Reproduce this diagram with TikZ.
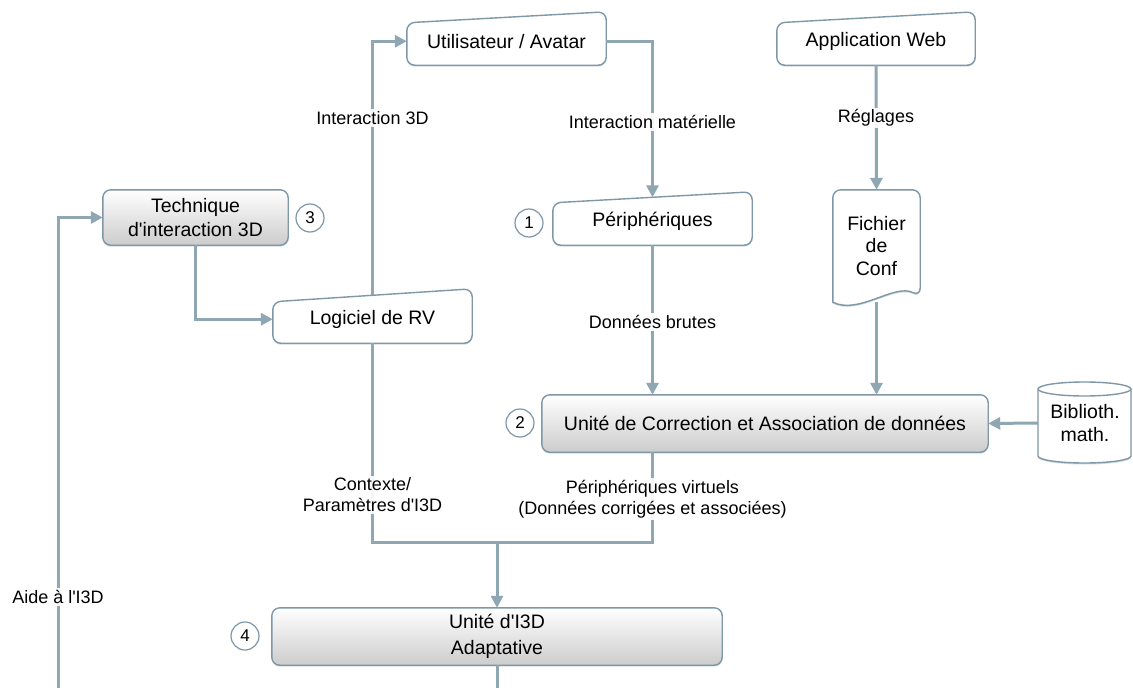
\documentclass[tikz,border=0pt]{standalone}
\usepackage{fontspec}
\setmainfont{Liberation Sans}
\usetikzlibrary{arrows.meta,shadows,backgrounds,calc}
\definecolor{lineC}{HTML}{8FA6B3}
\definecolor{borderC}{HTML}{7F97A6}
\newcommand\ap{\textquotesingle}
\begin{document}
\begin{tikzpicture}[x=1pt,y=-1pt,
  area/.style={inner sep=0pt, align=center, font=\fontsize{19.5}{24}\selectfont},
  boxline/.style={draw=borderC, line width=1.4pt, rounded corners=8pt, fill=white,
    drop shadow={opacity=0.35, fill=borderC, shadow xshift=0pt, shadow yshift=-1.5pt}},
  grad/.style={boxline, top color=white, bottom color=black!20},
  flow/.style={draw=lineC, line width=3pt},
  conn/.style={flow, -{Triangle[length=12pt,width=12pt]}},
  lab/.style={fill=white, fill opacity=0.9, text opacity=1, inner sep=2pt, align=center,
    font=\fontsize{18}{21}\selectfont},
  num/.style={circle, draw=borderC, line width=1.2pt, fill=white, minimum size=28pt,
    inner sep=0pt, font=\fontsize{17}{20}\selectfont}]
\useasboundingbox (0,0) rectangle (1133,688);

% nodes
\node[area, minimum width=199pt, minimum height=47.5pt] (user) at (506.5,41.25) {Utilisateur / Avatar};
\node[area, minimum width=198pt, minimum height=47.5pt] (web) at (876,41.25) {Application Web};
\node[area, minimum width=185pt, minimum height=55pt] (tech) at (195.5,217.5) {Technique\\d\ap interaction 3D};
\node[area, minimum width=199pt, minimum height=47.5pt] (peri) at (652.5,221.25) {Périphériques};
\node[area, minimum width=87pt, minimum height=112pt, font=\fontsize{19.5}{22.5}\selectfont] (fich) at (876.5,246) {Fichier\\de\\Conf};
\node[area, minimum width=199pt, minimum height=47.5pt] (rv) at (372.5,319.25) {Logiciel de RV};
\node[area, minimum width=446pt, minimum height=57pt] (corr) at (765,423.5) {Unité de Correction et Association de données};
\node[area, minimum width=94pt, minimum height=80pt, font=\fontsize{19.5}{23}\selectfont] (bib) at (1085,423) {Biblioth.\\math.};
\node[area, minimum width=450pt, minimum height=57pt, font=\fontsize{19.5}{26}\selectfont] (i3d) at (497,636.5) {Unité d\ap I3D\\Adaptative};

\node[num] (n3) at (310,218) {3};
\node[num] (n1) at (529,223) {1};
\node[num] (n2) at (520,423) {2};
\node[num] (n4) at (245,636) {4};

% shapes
\begin{scope}[on background layer]
\fill[white] (0,0) rectangle (1133,688);
\draw[boxline] ([yshift=-5.5pt]user.north west) -- ([yshift=5.5pt]user.north east) -- (user.south east) -- (user.south west) -- cycle;
\draw[boxline] ([yshift=-5.5pt]web.north west) -- ([yshift=5.5pt]web.north east) -- (web.south east) -- (web.south west) -- cycle;
\draw[boxline] ([yshift=-5.5pt]peri.north west) -- ([yshift=5.5pt]peri.north east) -- (peri.south east) -- (peri.south west) -- cycle;
\draw[boxline] ([yshift=-6.5pt]rv.north west) -- ([yshift=6.5pt]rv.north east) -- (rv.south east) -- (rv.south west) -- cycle;
\draw[grad] (tech.north west) rectangle (tech.south east);
\draw[grad] (corr.north west) rectangle (corr.south east);
\draw[grad] (i3d.north west) rectangle (i3d.south east);
\draw[boxline] (fich.south west) -- (fich.north west) -- (fich.north east) -- ([yshift=6pt]fich.south east)
  [sharp corners] .. controls +(-26,-13) and +(26,13) .. (fich.south west) -- cycle;
\draw[draw=borderC, line width=1.4pt, fill=white,
    drop shadow={opacity=0.35, fill=borderC, shadow xshift=0pt, shadow yshift=-1.5pt}]
  (1038,389) -- (1038,456) arc[start angle=180, end angle=360, x radius=46.5pt, y radius=7pt]
  -- (1131,389) arc[start angle=0, end angle=180, x radius=46.5pt, y radius=7pt] -- cycle;
\draw[draw=borderC, line width=1.4pt] (1038,389) arc[start angle=180, end angle=360, x radius=46.5pt, y radius=7pt];
\end{scope}

% connectors
\draw[conn] (rv.north) |- (user.west);
\draw[conn] (user.east) -| (peri.north);
\draw[conn] (web.south) -- (fich.north);
\draw[conn] (peri.south) -- (peri.south |- corr.north);
\draw[conn] (fich.south) -- (fich.south |- corr.north);
\draw[conn] (bib.west) -- (corr.east);
\draw[conn] (tech.south) |- (rv.west);
\path (i3d.north) ++(0,-65) coordinate (j);
\draw[flow] (rv.south) |- (j);
\draw[flow] (peri.south |- corr.south) |- (j);
\draw[conn] (j) -- (i3d.north);
\path (i3d.south) ++(0,23) coordinate (b1);
\draw[flow] (i3d.south) -- (b1);
\coordinate (b2) at (58,688);
\draw[conn] (b2) |- (tech.west);

% labels
\node[lab] (l1) at (372.5,118) {Interaction 3D};
\node[lab] (l2) at (652.5,122) {Interaction matérielle};
\node[lab] (l3) at (876,118) {Réglages};
\node[lab] (l4) at (652.5,322) {Données brutes};
\node[lab] (l5) at (372.5,495) {Contexte/\\Paramètres d\ap I3D};
\node[lab] (l6) at (652.5,499) {Périphériques virtuels\\(Données corrigées et associées)};
\node[lab] (l7) at (58,597) {Aide à l\ap I3D};
\end{tikzpicture}
\end{document}
